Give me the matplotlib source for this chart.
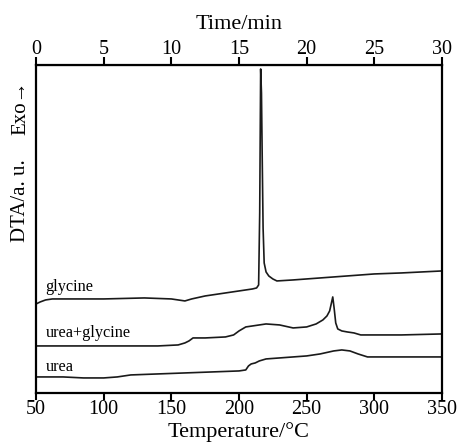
import matplotlib
matplotlib.use("Agg")
import matplotlib.pyplot as plt
import numpy as np

plt.rcParams['font.family'] = ['Liberation Serif', 'DejaVu Serif']

# Temperature (°C) and DTA signal (arbitrary units)
gly_T = [50, 53, 57, 62, 80, 100, 130, 150, 155, 160, 165, 175, 190, 200, 210, 213, 214.5, 215.3, 216.0, 216.6, 217.2, 217.8, 218.6, 220, 222, 225, 228, 240, 260, 280, 300, 320, 350]
gly_y = [89, 91, 93, 94, 94, 94, 95, 94, 93, 92, 94, 97, 100, 102, 104, 105, 108, 180, 324, 300, 230, 165, 130, 121, 117, 114, 112, 113, 115, 117, 119, 120, 122]

ug_T = [50, 80, 110, 140, 155, 160, 163, 166, 175, 190, 196, 200, 205, 210, 220, 230, 240, 250, 257, 262, 265, 267, 268, 269.3, 270.3, 271.5, 273, 276, 280, 285, 290, 300, 320, 350]
ug_y = [47, 47, 47, 47, 48, 50, 52, 55, 55, 56, 58, 62, 66, 67, 69, 68, 65, 66, 69, 73, 77, 82, 88, 96, 85, 70, 64, 62, 61, 60, 58, 58, 58, 59]

urea_T = [50, 70, 85, 100, 110, 120, 140, 160, 180, 200, 205, 207, 209, 212, 215, 220, 230, 240, 250, 260, 270, 276, 282, 288, 295, 305, 350]
urea_y = [16, 16, 15, 15, 16, 18, 19, 20, 21, 22, 23, 27, 29, 30, 32, 34, 35, 36, 37, 39, 42, 43, 42, 39, 36, 36, 36]

labels = ["glycine", "urea+glycine", "urea"]
label_T = [57, 57, 57]
label_y = [106, 60, 26]

fig = plt.figure(figsize=(4.57, 4.42), dpi=100)
ax = fig.add_axes([0.079, 0.111, 0.888, 0.742])

for T, y in [(gly_T, gly_y), (ug_T, ug_y), (urea_T, urea_y)]:
    ax.plot(T, y, color='#1a1a1a', lw=1.2)

for lab, tx, ty in zip(labels, label_T, label_y):
    ax.text(tx, ty, lab, fontsize=11.7, ha='left', va='center')

ax.set_xlim(50, 350)
ax.set_ylim(0, 328)
ax.set_xticks([50, 100, 150, 200, 250, 300, 350])
ax.set_yticks([])
ax.tick_params(axis='x', direction='out', length=5, width=1.5, labelsize=14.5, pad=0)
for s in ax.spines.values():
    s.set_linewidth(1.6)
ax.set_xlabel("Temperature/°C", fontsize=16, labelpad=2)

sec = ax.secondary_xaxis('top', functions=(lambda t: (t - 50) / 10.0, lambda m: m * 10.0 + 50))
sec.set_xticks([0, 5, 10, 15, 20, 25, 30])
sec.tick_params(direction='out', length=5.5, width=1.5, labelsize=14.5, pad=-1)
sec.set_xlabel("Time/min", fontsize=16, labelpad=8)

fig.text(0.045, 0.545, "DTA/a. u.", rotation=90, fontsize=15, ha='center', va='center')
fig.text(0.045, 0.757, "Exo→", rotation=90, fontsize=15, ha='center', va='center')

fig.savefig("out.png", dpi=100)
